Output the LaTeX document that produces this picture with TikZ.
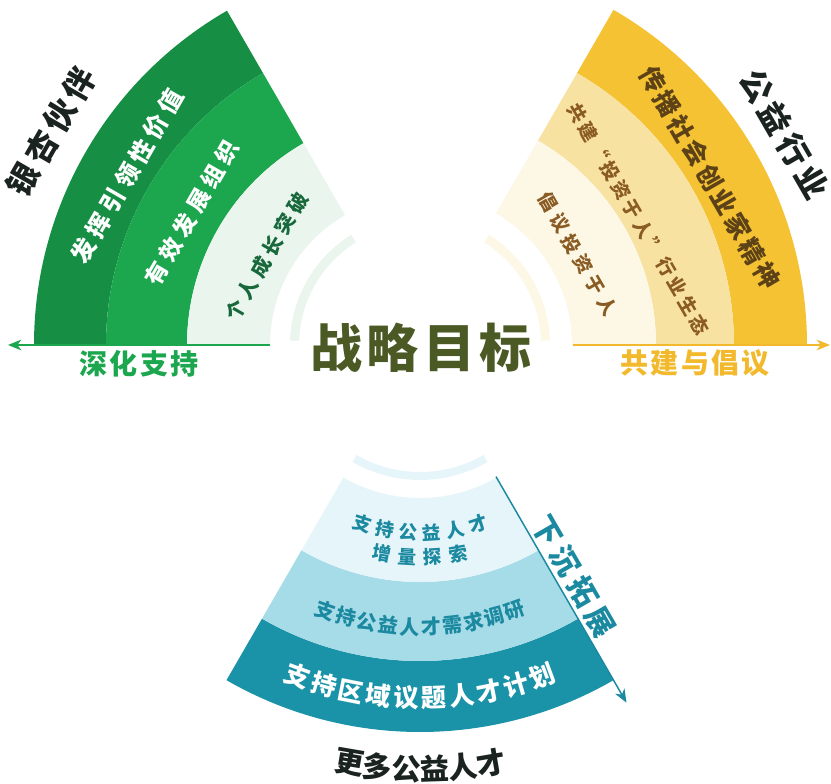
\documentclass[tikz,border=0pt]{standalone}
\usepackage{fontspec}
\setmainfont{Noto Sans CJK SC}
\usetikzlibrary{calc,arrows.meta}
\definecolor{gdark}{HTML}{168F45}
\definecolor{gmid}{HTML}{1CA74F}
\definecolor{glight}{HTML}{EAF5EE}
\definecolor{gtext}{HTML}{17683A}
\definecolor{ydark}{HTML}{F4C233}
\definecolor{ymid}{HTML}{F8E2A2}
\definecolor{ylight}{HTML}{FDF7E5}
\definecolor{ytext}{HTML}{8A5B22}
\definecolor{ytextdark}{HTML}{5E4217}
\definecolor{ylabel}{HTML}{F1B92B}
\definecolor{tdark}{HTML}{1A93A9}
\definecolor{tmid}{HTML}{A6DBE8}
\definecolor{tlight}{HTML}{E6F5FA}
\definecolor{ttext}{HTML}{1B89A0}
\definecolor{olive}{HTML}{4B5A25}
\definecolor{ink}{HTML}{1A2320}
\newcommand{\ring}[5]{\fill[#1] (#2:#4) arc[start angle=#2,end angle=#3,radius=#4] -- (#3:#5) arc[start angle=#3,end angle=#2,radius=#5] -- cycle;}
\newcommand{\arctext}[6]{%
	\foreach \ch [count=\k from 0] in {#6}
		\node[#5, rotate={#3+\k*(#4)+90}] (#1\k) at ({#3+\k*(#4)}:#2) {\ch};}

\begin{document}
\begin{tikzpicture}[x=0.75pt,y=0.75pt]
	% `bandtext' is used for the texts on the rings.
	% `spoke' is used for the arrows along the fan edges.
	\tikzstyle{bandtext} = [inner sep=0pt,font=\bfseries]
	\tikzstyle{side} = [inner sep=0pt,font=\bfseries\fontsize{24}{24}\selectfont\addfontfeature{LetterSpace=15}]
	\tikzstyle{spoke} = [line width=1.1pt,-{Stealth[length=10pt,width=8pt,inset=3pt]}]
	\useasboundingbox (-420,-439) rectangle (411,345);
	%
	% Left fan.
	\ring{gdark}{120}{180}{314}{386}
	\ring{gmid}{120}{180}{233}{314}
	\ring{glight}{120}{180}{150}{233}
	\ring{glight}{122}{178}{121}{130}
	\node[bandtext,white,rotate=60,font=\bfseries\fontsize{18}{18}\selectfont\addfontfeature{LetterSpace=20}] (l1) at (150:338) {发挥引领性价值};
	\node[bandtext,white,rotate=60,font=\bfseries\fontsize{17}{17}\selectfont\addfontfeature{LetterSpace=24}] (l2) at (150:264) {有效发展组织};
	\node[bandtext,gtext,rotate=60,font=\bfseries\fontsize{15}{15}\selectfont\addfontfeature{LetterSpace=24}] (l3) at (150:177) {个人成长突破};
	\node[side,ink,rotate=60] (partner) at (150:426) {银杏伙伴};
	%
	% Right fan.
	\ring{ydark}{0}{60}{314}{387}
	\ring{ymid}{0}{60}{236}{314}
	\ring{ylight}{0}{60}{152}{236}
	\ring{ylight}{2}{58}{121}{130}
	\node[bandtext,ytextdark,rotate=-60,font=\bfseries\fontsize{19}{19}\selectfont\addfontfeature{LetterSpace=12}] (r1) at (30:335) {传播社会创业家精神};
	\node[bandtext,ytext,rotate=-60,font=\bfseries\fontsize{14}{14}\selectfont\addfontfeature{LetterSpace=19}] (r2) at (30:252) {共建“投资于人”行业生态};
	\node[bandtext,ytext,rotate=-60,font=\bfseries\fontsize{14}{14}\selectfont\addfontfeature{LetterSpace=28}] (r3) at (30:182) {倡议投资于人};
	\node[side,ink,rotate=-60] (sector) at (30:421) {公益行业};
	%
	% Bottom fan.
	\ring{tdark}{240}{300}{316}{387}
	\ring{tmid}{240}{300}{237}{316}
	\ring{tlight}{240}{300}{153}{237}
	\ring{tlight}{240}{300}{127}{135}
	\arctext{bd}{353}{249.75}{4.5}{bandtext,white,font=\bfseries\fontsize{19}{19}\selectfont}{支,持,区,域,议,题,人,才,计,划}
	\arctext{bm}{282}{250.4}{4.36}{bandtext,ttext,font=\bfseries\fontsize{15}{15}\selectfont}{支,持,公,益,人,才,需,求,调,研}
	\arctext{bl}{188}{252.1}{7.16}{bandtext,ttext,font=\bfseries\fontsize{14}{14}\selectfont}{支,持,公,益,人,才}
	\arctext{bk}{212}{259.7}{6.87}{bandtext,ttext,font=\bfseries\fontsize{14}{14}\selectfont}{增,量,探,索}
	\arctext{more}{424}{260.4}{3.86}{bandtext,ink,font=\bfseries\fontsize{22}{22}\selectfont}{更,多,公,益,人,才}
	\node[side,ttext,rotate=-60,font=\bfseries\fontsize{22}{22}\selectfont\addfontfeature{LetterSpace=20}] (down) at (-56.3:278) {下沉拓展};
	%
	% Draw spokes and their labels.
	\coordinate (ls) at (180:150);
	\coordinate (le) at (180:412);
	\coordinate (rs) at (0:153);
	\coordinate (re) at (0:410);
	\coordinate (bs) at (-60:152);
	\coordinate (be) at (-60:413);
	\draw[spoke,gmid] (ls) -- (le);
	\draw[spoke,ylabel] (rs) -- (re);
	\draw[spoke,ttext] (bs) -- (be);
	\node[side,gmid,font=\bfseries\fontsize{21}{21}\selectfont\addfontfeature{LetterSpace=8}] (deep) at (-281,-19) {深化支持};
	\node[side,ylabel,font=\bfseries\fontsize{21}{21}\selectfont\addfontfeature{LetterSpace=8}] (build) at (275,-18) {共建与倡议};
	\node[side,olive,font=\bfseries\fontsize{39}{39}\selectfont\addfontfeature{LetterSpace=8}] (goal) at (1,-3) {战略目标};
%
\end{tikzpicture}
\end{document}
